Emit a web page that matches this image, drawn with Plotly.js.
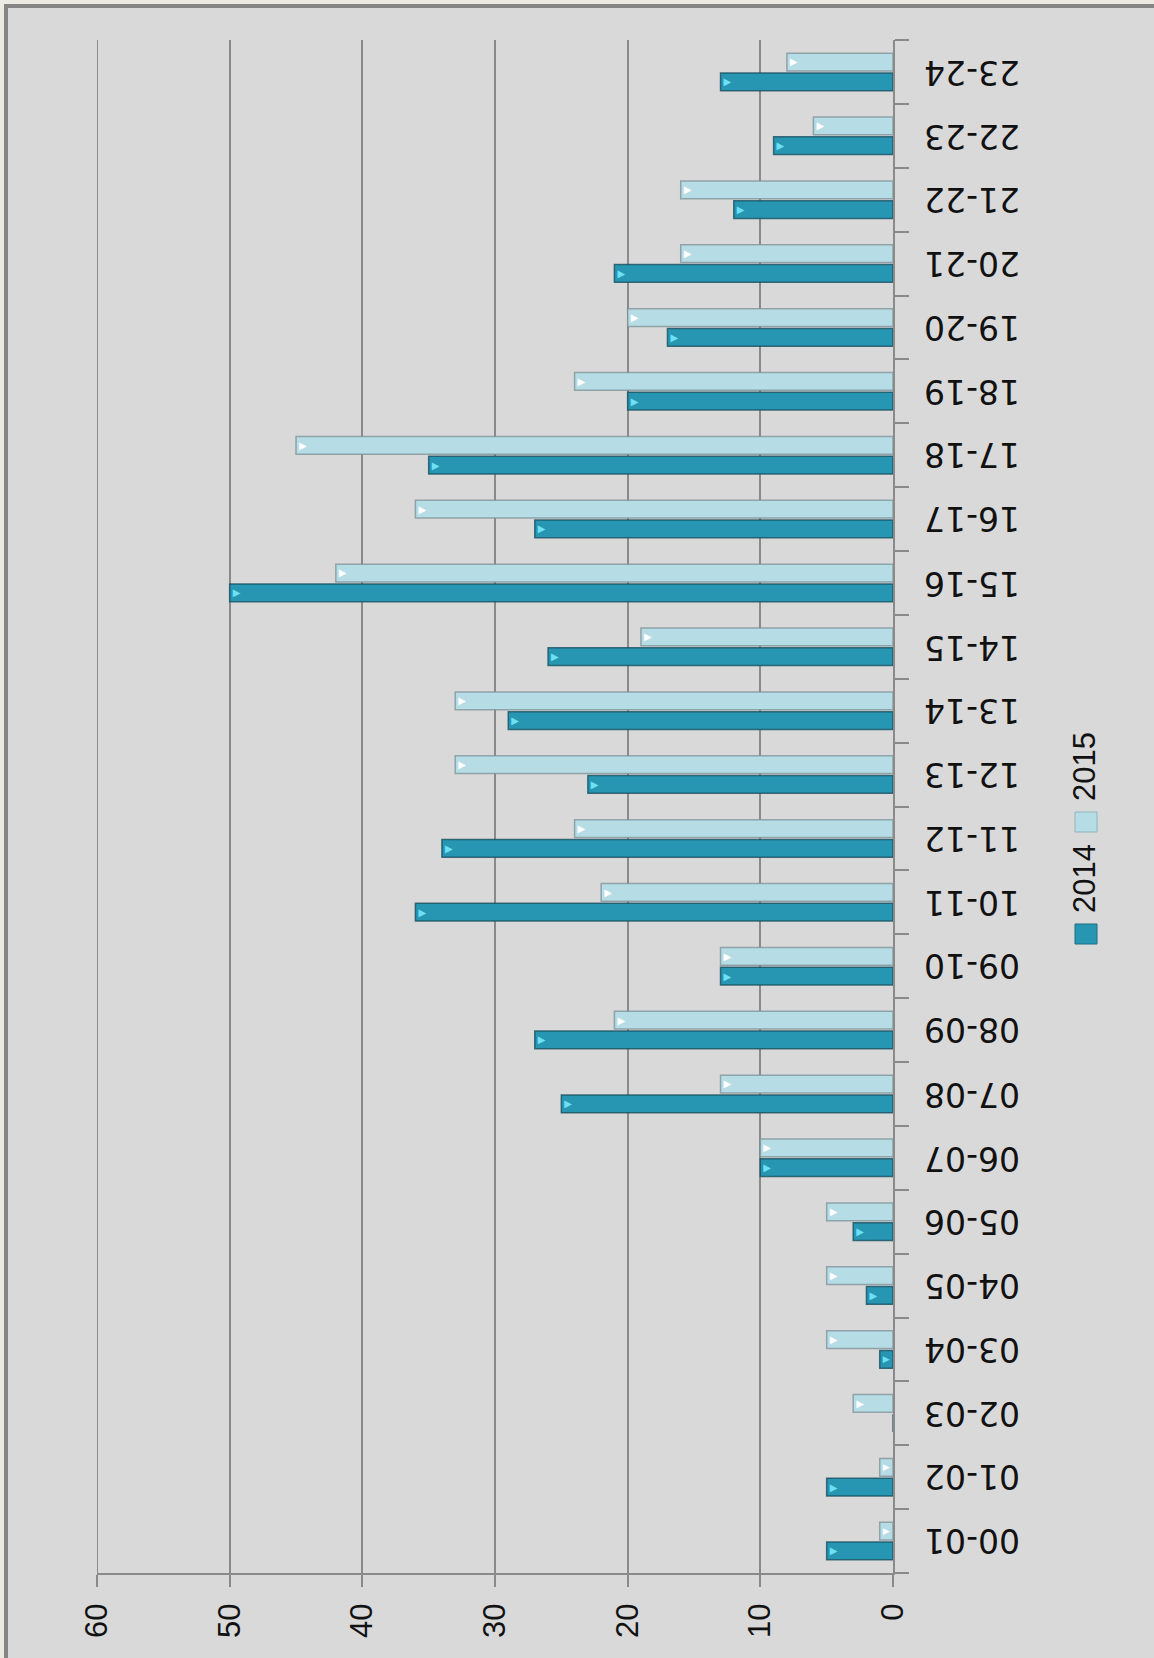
<!DOCTYPE html>
<html>
<head>
<meta charset="utf-8">
<script src="https://cdn.plot.ly/plotly-3.0.1.min.js"></script>
<style>
  html, body { margin:0; padding:0; width:1154px; height:1658px; overflow:hidden; background:#ebeae3; }
  #frame { position:absolute; left:4px; top:4px; width:1150px; height:1654px; box-sizing:border-box;
           background:#d9d9d9; border-left:4px solid #858585; border-top:4px solid #858585; }
  #chart { position:absolute; left:0; top:0; width:1154px; height:1658px; }
</style>
</head>
<body>
<div id="frame"></div>
<div id="chart"></div>
<script>
const categories = ["00-01","01-02","02-03","03-04","04-05","05-06","06-07","07-08","08-09","09-10",
                    "10-11","11-12","12-13","13-14","14-15","15-16","16-17","17-18","18-19","19-20",
                    "20-21","21-22","22-23","23-24"];
const values2014 = [5,5,0,1,2,3,10,25,27,13,36,34,23,29,26,50,27,35,20,17,21,12,9,13];
const values2015 = [1,1,3,5,5,5,10,13,21,13,22,24,33,33,19,42,36,45,24,20,16,16,6,8];
const seriesNames = ["2014","2015"];
const valueTicks = [0,10,20,30,40,50,60];

const colors = ["#2796b3", "#b6dce6"];
const tipColors = ["#6ee0f5", "#ffffff"];
const gridColor = "#8a8a8a";
const narrowFamily = "Liberation Sans, Arial, sans-serif";

const traces = [values2014, values2015].map((vals, i) => ({
  type: "bar",
  orientation: "h",
  name: seriesNames[i],
  y: categories,
  x: vals,
  text: "\u25B6",
  textposition: "inside",
  insidetextanchor: "end",
  textangle: 0,
  textfont: { family: "DejaVu Sans, sans-serif", size: 16, color: tipColors[i] },
  marker: { color: colors[i], line: { color: i === 0 ? "rgba(25,80,95,0.8)" : "rgba(120,140,145,0.7)", width: 1.5 } },
  hoverinfo: "x+y+name"
}));

const L = 97, R = 893, T = 40, B = 1573;
const W = 1154, H = 1658;
const px = v => (v - L) / (R - L);
const py = v => (B - v) / (B - T);

const legendItems = [
  { name: seriesNames[0], color: colors[0], line: "#1d6e83", sw: [924, 944], txt: 879 },
  { name: seriesNames[1], color: colors[1], line: "#8fb4be", sw: [812, 832], txt: 767 }
];

const shapes = legendItems.map(it => ({
  type: "rect", xref: "paper", yref: "paper",
  x0: px(1075), x1: px(1097), y0: py(it.sw[1]), y1: py(it.sw[0]),
  fillcolor: it.color, line: { color: it.line, width: 1 }
}));
// the outermost gridline (at the top of the value scale), which Plotly drops at the plot edge
const maxTick = Math.max(...valueTicks);
shapes.push({
  type: "line", xref: "x", yref: "paper", x0: maxTick, x1: maxTick, y0: 0, y1: 1,
  line: { color: gridColor, width: 2 }, layer: "below"
});

const annotations = legendItems.map(it => ({
  xref: "paper", yref: "paper", x: px(1084), y: py(it.txt),
  text: it.name, showarrow: false, textangle: -90,
  font: { family: narrowFamily, size: 31, color: "#111" },
  xanchor: "center", yanchor: "middle"
}));

// category labels, drawn upside down as in the reference
categories.forEach(c => annotations.push({
  xref: "paper", yref: "y", x: px(972), y: c,
  text: c, showarrow: false, textangle: 180,
  font: { family: "DejaVu Sans, sans-serif", size: 33, color: "#111" },
  xanchor: "center", yanchor: "middle"
}));

const layout = {
  width: W, height: H,
  margin: { l: L, r: W - R, t: T, b: H - B, pad: 0 },
  paper_bgcolor: "rgba(0,0,0,0)",
  plot_bgcolor: "rgba(0,0,0,0)",
  barmode: "group",
  bargap: 0.38,
  bargroupgap: 0.1,
  showlegend: false,
  xaxis: {
    range: [maxTick, 0],
    tickvals: valueTicks,
    ticktext: valueTicks.map(String),
    showgrid: true, gridcolor: gridColor, gridwidth: 2,
    zeroline: false,
    showline: true, linecolor: gridColor, linewidth: 2,
    ticks: "outside", ticklen: 12, tickcolor: gridColor, tickwidth: 2,
    tickangle: -90,
    ticklabelstandoff: 4,
    tickfont: { family: narrowFamily, size: 31, color: "#111" }
  },
  yaxis: {
    type: "category",
    side: "right",
    showgrid: false, zeroline: false,
    showline: true, linecolor: gridColor, linewidth: 2,
    ticks: "outside", ticklen: 14, tickcolor: gridColor, tickwidth: 2,
    tickson: "boundaries",
    showticklabels: false
  },
  shapes: shapes,
  annotations: annotations
};

Plotly.newPlot("chart", traces, layout, { displayModeBar: false, staticPlot: true });
</script>
</body>
</html>
